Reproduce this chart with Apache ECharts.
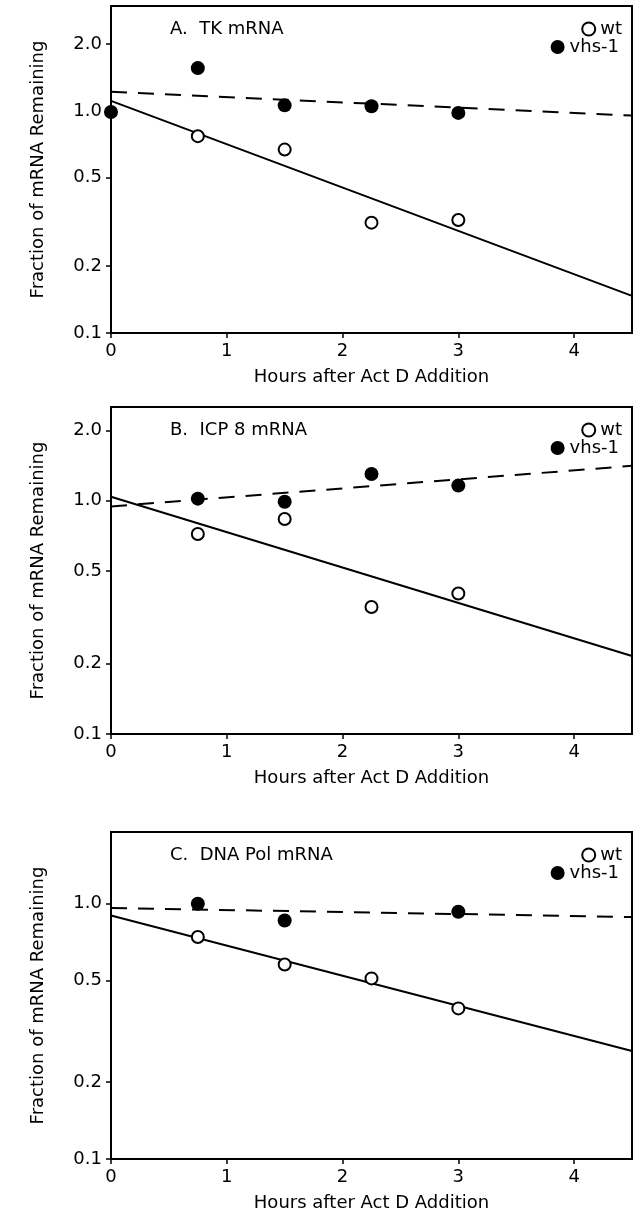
<!DOCTYPE html>
<html>
<head>
<meta charset="utf-8">
<script src="https://cdn.jsdelivr.net/npm/echarts@6/dist/echarts.min.js"></script>
<style>
html,body{margin:0;padding:0;background:#fff;}
#chart{width:639px;height:1214px;}
</style>
</head>
<body>
<div id="chart"></div>
<script>
// ---- data ----
const hours = [0, 0.75, 1.5, 2.25, 3];
const fitHours = [0, 4.5];
const xTicks = [0, 1, 2, 3, 4];
const yTicks = [0.1, 0.2, 0.5, 1.0, 2.0];

const panelTitles = ['A.  TK mRNA', 'B.  ICP 8 mRNA', 'C.  DNA Pol mRNA'];

const tkWt   = [null, 0.77, 0.67, 0.314, 0.323];
const tkVhs  = [0.99, 1.56, 1.06, 1.05, 0.98];
const tkWtFit  = [1.11, 0.147];
const tkVhsFit = [1.22, 0.953];

const icpWt  = [null, 0.72, 0.835, 0.35, 0.40];
const icpVhs = [null, 1.02, 0.99, 1.30, 1.16];
const icpWtFit  = [1.04, 0.216];
const icpVhsFit = [0.945, 1.41];

const polWt  = [null, 0.741, 0.578, 0.51, 0.389];
const polVhs = [null, 1.0, 0.86, null, 0.93];
const polWtFit  = [0.90, 0.265];
const polVhsFit = [0.962, 0.887];

// ---- layout ----
const FONT = 'DejaVu Sans';
const FS = 18;
const panels = [
  {top: 6,   yMax: 2.97, wt: tkWt,  vhs: tkVhs,  wtFit: tkWtFit,  vhsFit: tkVhsFit},
  {top: 407, yMax: 2.52, wt: icpWt, vhs: icpVhs, wtFit: icpWtFit, vhsFit: icpVhsFit},
  {top: 832, yMax: 1.91, wt: polWt, vhs: polVhs, wtFit: polWtFit, vhsFit: polVhsFit}
];
const GRID_H = 327;

function pairs(xs, ys){ const out=[]; xs.forEach((x,i)=>{ if(ys[i]!=null) out.push([x, ys[i]]); }); return out; }

const option = {
  animation: false,
  backgroundColor: '#fff',
  textStyle: {fontFamily: FONT, color: '#000'},
  title: [], legend: [], grid: [], xAxis: [], yAxis: [], series: []
};

panels.forEach((p, i) => {
  option.grid.push({left: 111, right: 7, top: p.top, height: GRID_H, show: true,
    borderColor: '#000', borderWidth: 2, backgroundColor: 'transparent'});
  option.title.push({text: panelTitles[i], left: 170, top: p.top + 25 - 11, padding: 0,
    textStyle: {fontFamily: FONT, fontSize: FS, fontWeight: 'normal', color: '#000'}});
  option.legend.push({data: ['wt'], right: 17, top: p.top + 24 - 10, padding: 0,
    orient: 'vertical', itemWidth: 13, itemHeight: 13, selectedMode: false,
    textStyle: {fontFamily: FONT, fontSize: FS, color: '#000'}});
  option.legend.push({data: ['vhs-1'], right: 20, top: p.top + 42 - 10, padding: 0,
    orient: 'vertical', itemWidth: 14, itemHeight: 14, selectedMode: false,
    textStyle: {fontFamily: FONT, fontSize: FS, color: '#000'}});
  option.xAxis.push({
    gridIndex: i, type: 'value', min: 0, max: 4.5, interval: 1,
    name: 'Hours after Act D Addition', nameLocation: 'middle', nameGap: 35,
    nameTextStyle: {fontFamily: FONT, fontSize: FS, color: '#000'},
    axisLine: {show: true, lineStyle: {color: '#000', width: 2}},
    axisTick: {show: true, length: 5, customValues: xTicks, lineStyle: {color: '#000', width: 1.5}},
    axisLabel: {customValues: xTicks, margin: 9, fontFamily: FONT, fontSize: FS, color: '#000'},
    splitLine: {show: false}
  });
  const yt = yTicks.filter(v => v <= p.yMax);
  option.yAxis.push({
    gridIndex: i, type: 'log', logBase: 10, min: 0.1, max: p.yMax,
    name: 'Fraction of mRNA Remaining', nameLocation: 'middle', nameGap: 64,
    nameTextStyle: {fontFamily: FONT, fontSize: FS, color: '#000'},
    axisLine: {show: true, lineStyle: {color: '#000', width: 2}},
    axisTick: {show: true, length: 5, customValues: yt, lineStyle: {color: '#000', width: 1.5}},
    axisLabel: {customValues: yt, margin: 9, fontFamily: FONT, fontSize: FS, color: '#000',
      formatter: v => Number(v).toFixed(1)},
    splitLine: {show: false}, minorTick: {show: false}
  });
  option.series.push({
    type: 'line', xAxisIndex: i, yAxisIndex: i, data: pairs(fitHours, p.wtFit),
    symbol: 'none', silent: true, lineStyle: {color: '#000', width: 2}, z: 2
  });
  option.series.push({
    type: 'line', xAxisIndex: i, yAxisIndex: i, data: pairs(fitHours, p.vhsFit),
    symbol: 'none', silent: true, lineStyle: {color: '#000', width: 2, type: [16, 11]}, z: 2
  });
  option.series.push({
    name: 'wt', type: 'scatter', xAxisIndex: i, yAxisIndex: i, data: pairs(hours, p.wt),
    symbol: 'emptyCircle', symbolSize: 12, clip: false,
    itemStyle: {color: '#000', borderColor: '#000', borderWidth: 2, opacity: 1}, z: 3
  });
  option.series.push({
    name: 'vhs-1', type: 'scatter', xAxisIndex: i, yAxisIndex: i, data: pairs(hours, p.vhs),
    symbol: 'circle', symbolSize: 14, clip: false,
    itemStyle: {color: '#000', opacity: 1}, z: 3
  });
});

const chart = echarts.init(document.getElementById('chart'), null, {renderer: 'canvas'});
chart.setOption(option);
</script>
</body>
</html>
